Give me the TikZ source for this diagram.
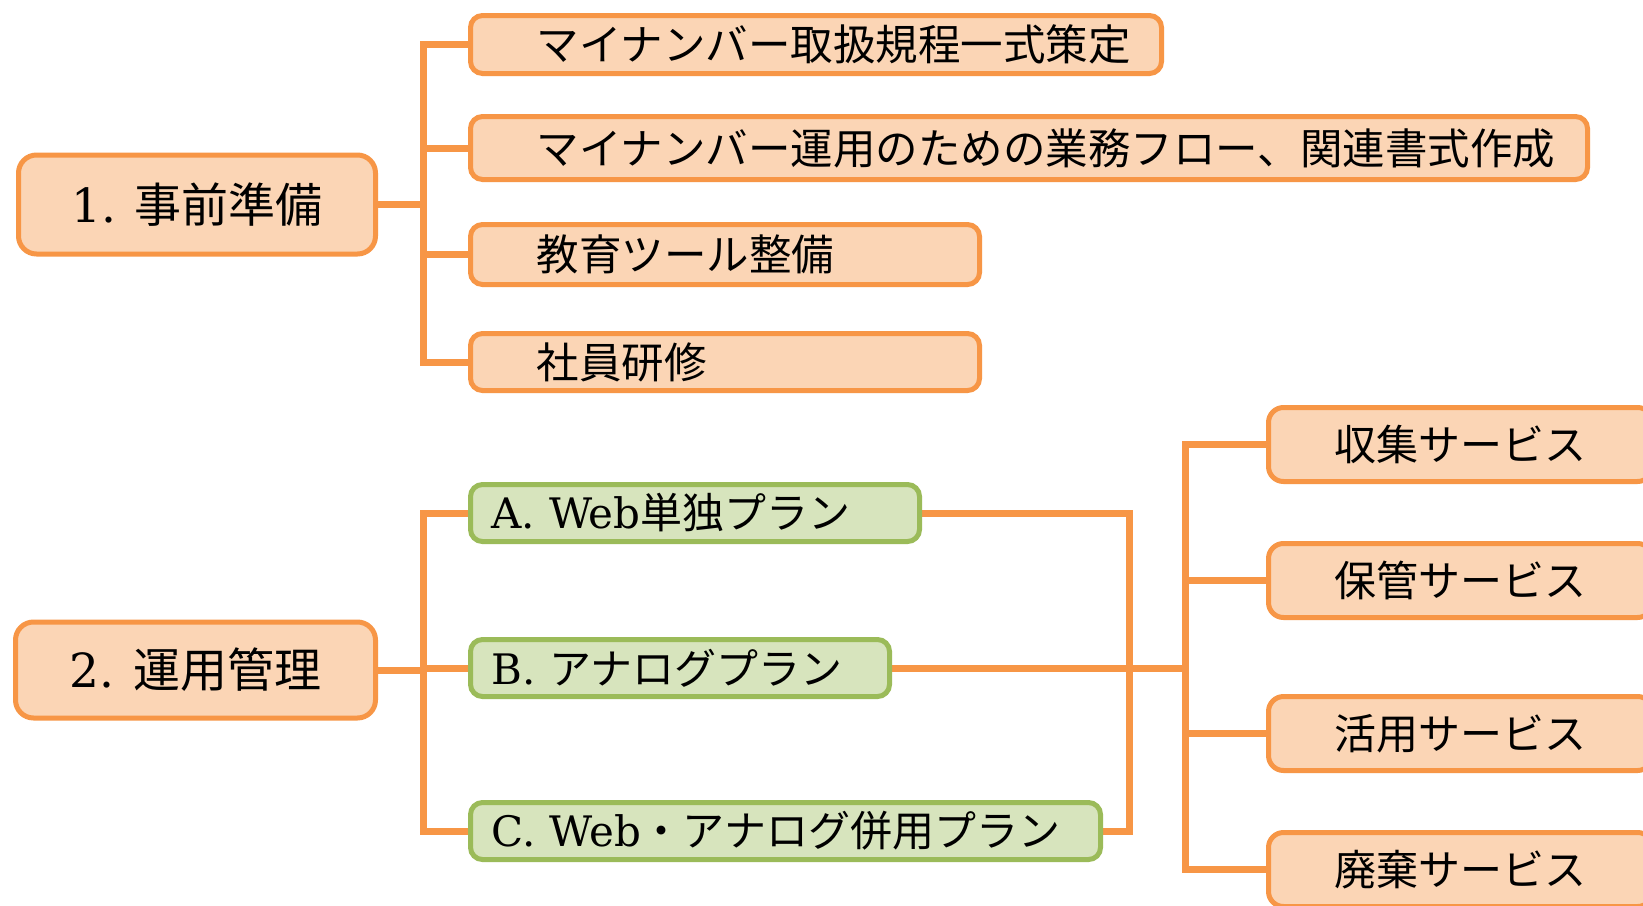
\documentclass[tikz,border=0pt]{standalone}
\usepackage{fontspec}
\setmainfont{DejaVu Serif}
\newfontfamily\jp{Noto Sans CJK JP}
\usetikzlibrary{backgrounds}
\definecolor{ofill}{HTML}{FBD5B5}
\definecolor{oline}{HTML}{F79646}
\definecolor{gfill}{HTML}{D7E4BD}
\definecolor{gline}{HTML}{9BBB59}
\newcommand{\pd}{\hspace*{66pt}}
\newcommand{\gpd}{\hspace*{21pt}}
\tikzset{
  box/.style={draw=oline, fill=ofill, line width=5pt, inner sep=0pt, rounded corners=12pt},
  mainbox/.style={box, rounded corners=18pt, font=\fontsize{47pt}{56pt}\selectfont, align=center},
  leafbox/.style={box, text width=#1, align=left, font=\fontsize{42.5pt}{50pt}\selectfont\jp},
  planbox/.style={box, draw=gline, fill=gfill, text width=#1, align=left, font=\fontsize{42pt}{50pt}\selectfont},
  svcbox/.style={box, rounded corners=15pt, minimum width=384pt, minimum height=74pt, font=\fontsize{42pt}{50pt}\selectfont\jp},
  conn/.style={draw=oline, line width=7pt, line join=miter}
}
\begin{document}
\begin{tikzpicture}[x=1pt,y=-1pt]
\useasboundingbox (0,0) rectangle (1643,905);

% spine positions
\coordinate (s1) at (423,0);
\coordinate (s2) at (1129,0);
\coordinate (s3) at (1185,0);

% 1. preparation
\node[mainbox, minimum width=357pt, minimum height=99pt] (m1) at (197,204.5) {1.\hspace{0.4em}{\jp 事前準備}};
\node[leafbox=691pt, minimum height=58pt] (a) at (816,44.5) {\pd マイナンバー取扱規程一式策定};
\node[leafbox=1117pt, minimum height=63pt] (b) at (1029,148) {\pd マイナンバー運用のための業務フロー、関連書式作成};
\node[leafbox=509pt, minimum height=60pt] (c) at (725,254.5) {\pd 教育ツール整備};
\node[leafbox=509pt, minimum height=57pt] (d) at (725,362) {\pd 社員研修};

% 2. operation
\node[mainbox, minimum width=360pt, minimum height=96pt] (m2) at (195.5,670) {2.\hspace{0.4em}{\jp 運用管理}};
\node[planbox=449pt, minimum height=57pt] (pa) at (695,513) {\gpd A.\ Web{\jp 単独プラン}};
\node[planbox=419pt, minimum height=57pt] (pb) at (680,668) {\gpd B.\ {\jp アナログプラン}};
\node[planbox=630pt, minimum height=57pt] (pc) at (785.5,831) {\gpd C.\ Web{\jp ・アナログ併用プラン}};

% services
\node[svcbox] (r1) at (1460.5,444.5) {収集サービス};
\node[svcbox] (r2) at (1460.5,580.5) {保管サービス};
\node[svcbox] (r3) at (1460.5,733.5) {活用サービス};
\node[svcbox] (r4) at (1460.5,869.5) {廃棄サービス};

\begin{scope}[on background layer]
  \fill[white] (0,0) rectangle (1643,905);
  \draw[conn] (m1.east) -- (s1 |- m1.east);
  \draw[conn] (a.west) -- (s1 |- a.west) -- (s1 |- d.west) -- (d.west);
  \draw[conn] (b.west) -- (s1 |- b.west);
  \draw[conn] (c.west) -- (s1 |- c.west);

  \draw[conn] (m2.east) -- (s1 |- m2.east);
  \draw[conn] (pa.west) -- (s1 |- pa.west) -- (s1 |- pc.west) -- (pc.west);
  \draw[conn] (pb.west) -- (s1 |- pb.west);

  \draw[conn] (pa.east) -- (s2 |- pa.east) -- (s2 |- pc.east) -- (pc.east);
  \draw[conn] (pb.east) -- (s3 |- pb.east);

  \draw[conn] (r1.west) -- (s3 |- r1.west) -- (s3 |- r4.west) -- (r4.west);
  \draw[conn] (r2.west) -- (s3 |- r2.west);
  \draw[conn] (r3.west) -- (s3 |- r3.west);
\end{scope}
\end{tikzpicture}
\end{document}
